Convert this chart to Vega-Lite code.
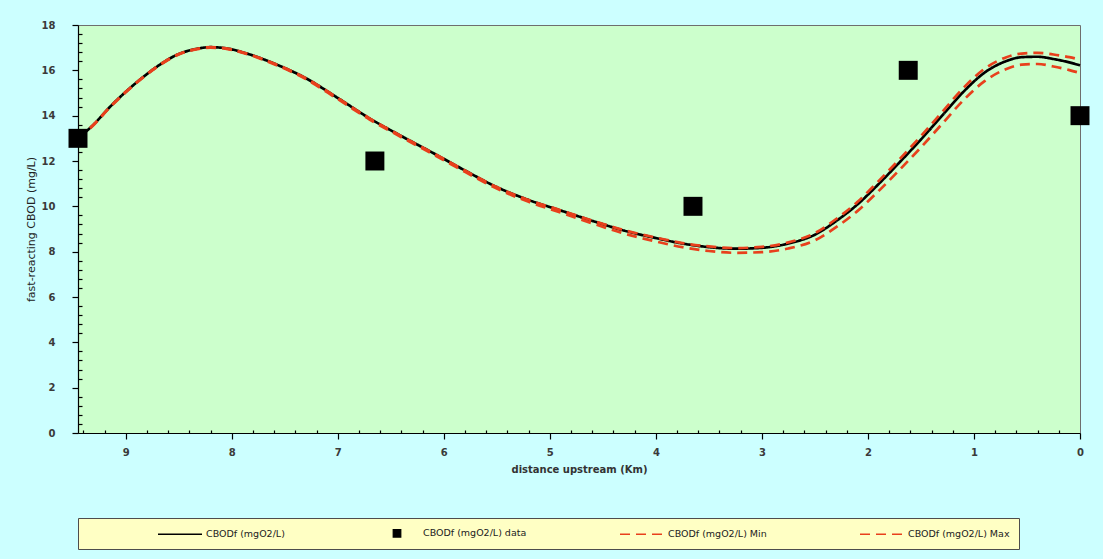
{
  "$schema": "https://vega.github.io/schema/vega-lite/v6.json",
  "width": 1002,
  "height": 408,
  "autosize": "none",
  "padding": {"left": 78, "top": 25, "right": 23, "bottom": 126},
  "background": "#ccffff",
  "config": {
    "view": {"fill": "#ccffcc", "stroke": "#6e6e6e", "strokeWidth": 1},
    "font": "DejaVu Sans"
  },
  "datasets": {
    "curve": [
      {"d": 9.45, "CBODf (mgO2/L)": 13.0, "CBODf (mgO2/L) Min": 13.0, "CBODf (mgO2/L) Max": 13.0},
      {"d": 9.3, "CBODf (mgO2/L)": 13.62, "CBODf (mgO2/L) Min": 13.6, "CBODf (mgO2/L) Max": 13.62},
      {"d": 9.15, "CBODf (mgO2/L)": 14.38, "CBODf (mgO2/L) Min": 14.36, "CBODf (mgO2/L) Max": 14.38},
      {"d": 9.0, "CBODf (mgO2/L)": 15.05, "CBODf (mgO2/L) Min": 15.03, "CBODf (mgO2/L) Max": 15.05},
      {"d": 8.85, "CBODf (mgO2/L)": 15.65, "CBODf (mgO2/L) Min": 15.63, "CBODf (mgO2/L) Max": 15.65},
      {"d": 8.7, "CBODf (mgO2/L)": 16.18, "CBODf (mgO2/L) Min": 16.16, "CBODf (mgO2/L) Max": 16.18},
      {"d": 8.5, "CBODf (mgO2/L)": 16.72, "CBODf (mgO2/L) Min": 16.7, "CBODf (mgO2/L) Max": 16.72},
      {"d": 8.35, "CBODf (mgO2/L)": 16.93, "CBODf (mgO2/L) Min": 16.91, "CBODf (mgO2/L) Max": 16.93},
      {"d": 8.2, "CBODf (mgO2/L)": 17.02, "CBODf (mgO2/L) Min": 17.0, "CBODf (mgO2/L) Max": 17.02},
      {"d": 8.05, "CBODf (mgO2/L)": 16.97, "CBODf (mgO2/L) Min": 16.95, "CBODf (mgO2/L) Max": 16.97},
      {"d": 7.9, "CBODf (mgO2/L)": 16.8, "CBODf (mgO2/L) Min": 16.78, "CBODf (mgO2/L) Max": 16.8},
      {"d": 7.6, "CBODf (mgO2/L)": 16.3, "CBODf (mgO2/L) Min": 16.27, "CBODf (mgO2/L) Max": 16.3},
      {"d": 7.3, "CBODf (mgO2/L)": 15.65, "CBODf (mgO2/L) Min": 15.61, "CBODf (mgO2/L) Max": 15.65},
      {"d": 7.0, "CBODf (mgO2/L)": 14.78, "CBODf (mgO2/L) Min": 14.73, "CBODf (mgO2/L) Max": 14.78},
      {"d": 6.7, "CBODf (mgO2/L)": 13.88, "CBODf (mgO2/L) Min": 13.83, "CBODf (mgO2/L) Max": 13.88},
      {"d": 6.4, "CBODf (mgO2/L)": 13.1, "CBODf (mgO2/L) Min": 13.05, "CBODf (mgO2/L) Max": 13.1},
      {"d": 6.1, "CBODf (mgO2/L)": 12.35, "CBODf (mgO2/L) Min": 12.29, "CBODf (mgO2/L) Max": 12.35},
      {"d": 5.8, "CBODf (mgO2/L)": 11.58, "CBODf (mgO2/L) Min": 11.52, "CBODf (mgO2/L) Max": 11.58},
      {"d": 5.5, "CBODf (mgO2/L)": 10.85, "CBODf (mgO2/L) Min": 10.78, "CBODf (mgO2/L) Max": 10.85},
      {"d": 5.2, "CBODf (mgO2/L)": 10.28, "CBODf (mgO2/L) Min": 10.2, "CBODf (mgO2/L) Max": 10.28},
      {"d": 4.9, "CBODf (mgO2/L)": 9.82, "CBODf (mgO2/L) Min": 9.73, "CBODf (mgO2/L) Max": 9.83},
      {"d": 4.6, "CBODf (mgO2/L)": 9.36, "CBODf (mgO2/L) Min": 9.25, "CBODf (mgO2/L) Max": 9.37},
      {"d": 4.3, "CBODf (mgO2/L)": 8.93, "CBODf (mgO2/L) Min": 8.8, "CBODf (mgO2/L) Max": 8.95},
      {"d": 4.0, "CBODf (mgO2/L)": 8.6, "CBODf (mgO2/L) Min": 8.45, "CBODf (mgO2/L) Max": 8.62},
      {"d": 3.75, "CBODf (mgO2/L)": 8.36, "CBODf (mgO2/L) Min": 8.2, "CBODf (mgO2/L) Max": 8.38},
      {"d": 3.5, "CBODf (mgO2/L)": 8.2, "CBODf (mgO2/L) Min": 8.03, "CBODf (mgO2/L) Max": 8.23},
      {"d": 3.25, "CBODf (mgO2/L)": 8.13, "CBODf (mgO2/L) Min": 7.95, "CBODf (mgO2/L) Max": 8.16},
      {"d": 3.0, "CBODf (mgO2/L)": 8.17, "CBODf (mgO2/L) Min": 7.98, "CBODf (mgO2/L) Max": 8.21},
      {"d": 2.75, "CBODf (mgO2/L)": 8.36, "CBODf (mgO2/L) Min": 8.14, "CBODf (mgO2/L) Max": 8.41},
      {"d": 2.5, "CBODf (mgO2/L)": 8.75, "CBODf (mgO2/L) Min": 8.5, "CBODf (mgO2/L) Max": 8.82},
      {"d": 2.3, "CBODf (mgO2/L)": 9.35, "CBODf (mgO2/L) Min": 9.08, "CBODf (mgO2/L) Max": 9.44},
      {"d": 2.1, "CBODf (mgO2/L)": 10.08, "CBODf (mgO2/L) Min": 9.79, "CBODf (mgO2/L) Max": 10.19},
      {"d": 1.9, "CBODf (mgO2/L)": 10.98, "CBODf (mgO2/L) Min": 10.67, "CBODf (mgO2/L) Max": 11.11},
      {"d": 1.7, "CBODf (mgO2/L)": 11.95, "CBODf (mgO2/L) Min": 11.62, "CBODf (mgO2/L) Max": 12.09},
      {"d": 1.5, "CBODf (mgO2/L)": 12.95, "CBODf (mgO2/L) Min": 12.6, "CBODf (mgO2/L) Max": 13.1},
      {"d": 1.3, "CBODf (mgO2/L)": 14.0, "CBODf (mgO2/L) Min": 13.64, "CBODf (mgO2/L) Max": 14.16},
      {"d": 1.1, "CBODf (mgO2/L)": 15.05, "CBODf (mgO2/L) Min": 14.68, "CBODf (mgO2/L) Max": 15.22},
      {"d": 0.9, "CBODf (mgO2/L)": 15.9, "CBODf (mgO2/L) Min": 15.52, "CBODf (mgO2/L) Max": 16.07},
      {"d": 0.7, "CBODf (mgO2/L)": 16.4, "CBODf (mgO2/L) Min": 16.05, "CBODf (mgO2/L) Max": 16.57},
      {"d": 0.55, "CBODf (mgO2/L)": 16.58, "CBODf (mgO2/L) Min": 16.25, "CBODf (mgO2/L) Max": 16.74},
      {"d": 0.4, "CBODf (mgO2/L)": 16.6, "CBODf (mgO2/L) Min": 16.28, "CBODf (mgO2/L) Max": 16.77},
      {"d": 0.25, "CBODf (mgO2/L)": 16.5, "CBODf (mgO2/L) Min": 16.17, "CBODf (mgO2/L) Max": 16.7},
      {"d": 0.1, "CBODf (mgO2/L)": 16.35, "CBODf (mgO2/L) Min": 16.01, "CBODf (mgO2/L) Max": 16.58},
      {"d": 0.0, "CBODf (mgO2/L)": 16.22, "CBODf (mgO2/L) Min": 15.88, "CBODf (mgO2/L) Max": 16.47}
    ],
    "obs": [
      {"d": 9.45, "value": 13, "series": "CBODf (mgO2/L) data"},
      {"d": 6.65, "value": 12, "series": "CBODf (mgO2/L) data"},
      {"d": 3.65, "value": 10, "series": "CBODf (mgO2/L) data"},
      {"d": 1.62, "value": 16, "series": "CBODf (mgO2/L) data"},
      {"d": 0.0, "value": 14, "series": "CBODf (mgO2/L) data"}
    ]
  },
  "encoding": {
    "x": {
      "field": "d",
      "type": "quantitative",
      "scale": {"domain": [0, 9.45], "reverse": true, "nice": false, "zero": false},
      "axis": {
        "title": "distance upstream (Km)",
        "titleFont": "DejaVu Sans",
        "titleFontSize": 10,
        "titleFontWeight": "bold",
        "titleColor": "#333333",
        "titlePadding": 7,
        "values": [0, 0.2, 0.4, 0.6, 0.8, 1, 1.2, 1.4, 1.6, 1.8, 2, 2.2, 2.4, 2.6, 2.8, 3, 3.2, 3.4, 3.6, 3.8, 4, 4.2, 4.4, 4.6, 4.8, 5, 5.2, 5.4, 5.6, 5.8, 6, 6.2, 6.4, 6.6, 6.8, 7, 7.2, 7.4, 7.6, 7.8, 8, 8.2, 8.4, 8.6, 8.8, 9, 9.2, 9.4],
        "labelExpr": "datum.value % 1 == 0 ? format(datum.value, 'd') : ''",
        "labelFont": "DejaVu Sans",
        "labelFontSize": 10,
        "labelFontWeight": "bold",
        "labelColor": "#3a3a3a",
        "labelPadding": 8,
        "labelOverlap": false,
        "labelFlush": false,
        "grid": false,
        "domainColor": "#000000",
        "domainWidth": 1.2,
        "tickColor": "#000000",
        "tickWidth": 1.2,
        "tickSize": {"condition": {"test": "datum.value % 1 == 0", "value": 6}, "value": -3}
      }
    },
    "y": {
      "field": "value",
      "type": "quantitative",
      "scale": {"domain": [0, 18], "nice": false},
      "axis": {
        "title": "fast-reacting CBOD (mg/L)",
        "titleFont": "DejaVu Sans",
        "titleFontSize": 11,
        "titleFontWeight": "normal",
        "titleColor": "#222222",
        "titlePadding": 5,
        "values": [0, 0.4, 0.8, 1.2, 1.6, 2, 2.4, 2.8, 3.2, 3.6, 4, 4.4, 4.8, 5.2, 5.6, 6, 6.4, 6.8, 7.2, 7.6, 8, 8.4, 8.8, 9.2, 9.6, 10, 10.4, 10.8, 11.2, 11.6, 12, 12.4, 12.8, 13.2, 13.6, 14, 14.4, 14.8, 15.2, 15.6, 16, 16.4, 16.8, 17.2, 17.6, 18],
        "labelExpr": "datum.value % 2 == 0 ? format(datum.value, 'd') : ''",
        "labelFont": "DejaVu Sans",
        "labelFontSize": 10,
        "labelFontWeight": "bold",
        "labelColor": "#3a3a3a",
        "labelPadding": 17,
        "labelOverlap": false,
        "labelFlush": false,
        "grid": false,
        "domainColor": "#000000",
        "domainWidth": 1.2,
        "tickColor": "#000000",
        "tickWidth": 1.2,
        "tickSize": {"condition": {"test": "datum.value % 2 == 0", "value": 6}, "value": -4}
      }
    }
  },
  "layer": [
    {
      "data": {"name": "curve"},
      "transform": [
        {"fold": ["CBODf (mgO2/L)", "CBODf (mgO2/L) Min", "CBODf (mgO2/L) Max"], "as": ["series", "value"]}
      ],
      "mark": {"type": "line", "interpolate": "monotone", "strokeWidth": 2.7},
      "encoding": {
        "color": {
          "field": "series",
          "type": "nominal",
          "scale": {
            "domain": ["CBODf (mgO2/L)", "CBODf (mgO2/L) data", "CBODf (mgO2/L) Min", "CBODf (mgO2/L) Max"],
            "range": ["#000000", "#000000", "#e8401c", "#e8401c"]
          },
          "legend": {
            "orient": "none",
            "legendX": 0,
            "legendY": 493,
            "direction": "horizontal",
            "columns": 4,
            "title": "\u00a0",
            "titleOrient": "left",
            "titleFontSize": 9,
            "titlePadding": 71,
            "fillColor": "#ffffc4",
            "strokeColor": "#4d4d4d",
            "padding": 9,
            "labelFont": "DejaVu Sans",
            "labelFontSize": 9.5,
            "labelColor": "#222222",
            "labelLimit": 400,
            "labelExpr": "datum.value == 'CBODf (mgO2/L) Max' ? datum.label + '\u00a0\u00a0\u00a0\u00a0\u00a0\u00a0\u00a0\u00a0\u00a0\u00a0\u00a0\u00a0\u00a0\u00a0\u00a0\u00a0\u00a0\u00a0\u00a0\u00a0\u00a0\u00a0\u00a0\u00a0\u00a0\u00a0\u00a0\u00a0\u00a0\u00a0\u00a0\u00a0\u00a0\u00a0\u00a0\u00a0\u00a0' : datum.label",
            "symbolStrokeWidth": 1.3,
            "symbolSize": 100,
            "symbolOffset": 16,
            "labelOffset": 20,
            "columnPadding": 90,
            "gridAlign": "each",
            "encode": {"symbols": {"update": {"size": {"signal": "datum.value == 'CBODf (mgO2/L) data' ? 56 : 100"}}}}
          }
        },
        "strokeDash": {
          "field": "series",
          "type": "nominal",
          "scale": {
            "domain": ["CBODf (mgO2/L)", "CBODf (mgO2/L) data", "CBODf (mgO2/L) Min", "CBODf (mgO2/L) Max"],
            "range": [[1, 0], [1, 0], [10, 6], [10, 6]]
          }
        }
      }
    },
    {
      "data": {"name": "obs"},
      "mark": {"type": "point", "filled": true, "size": 360, "opacity": 1},
      "encoding": {
        "color": {"field": "series", "type": "nominal"},
        "shape": {
          "field": "series",
          "type": "nominal",
          "scale": {
            "domain": ["CBODf (mgO2/L)", "CBODf (mgO2/L) data", "CBODf (mgO2/L) Min", "CBODf (mgO2/L) Max"],
            "range": ["M-4.4,0H4.4", "square", "M-4.4,0H4.4", "M-4.4,0H4.4"]
          }
        }
      }
    }
  ]
}
